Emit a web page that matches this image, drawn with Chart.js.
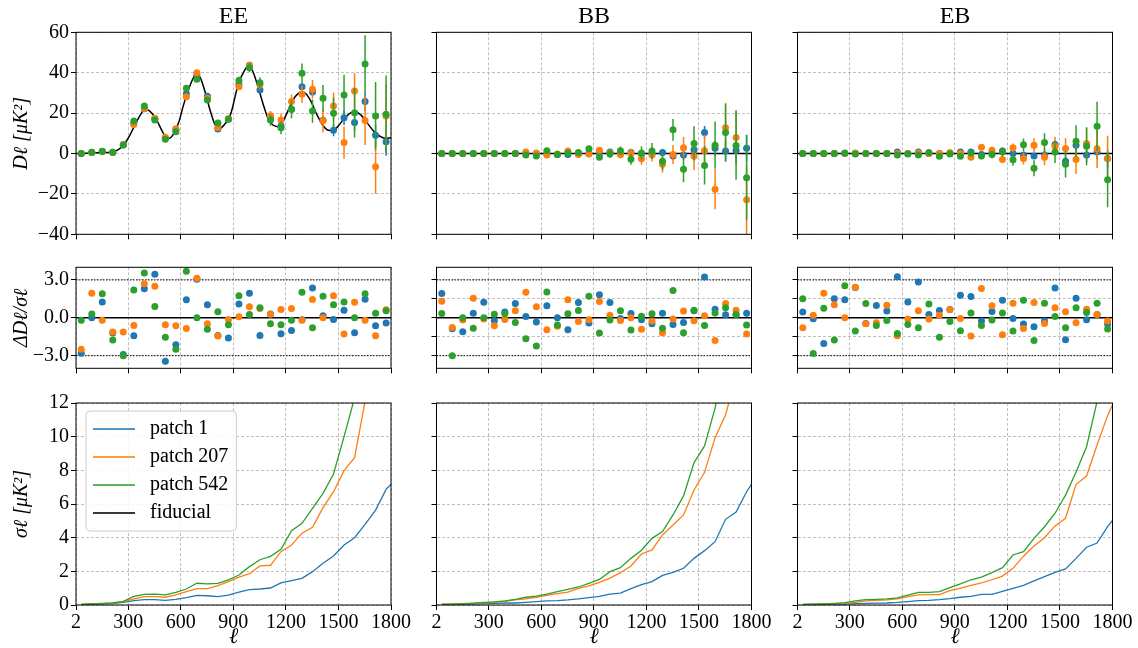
<!DOCTYPE html>
<html>
<head>
<meta charset="utf-8">
<script src="https://cdn.jsdelivr.net/npm/chart.js@4.4.1/dist/chart.umd.min.js"></script>
<style>
  html, body { margin: 0; padding: 0; background: #fff; }
  #fig { position: relative; width: 1138px; height: 648px; overflow: hidden; background: #fff; }
  #fig canvas { position: absolute; left: 0; top: 0; }
</style>
</head>
<body>
<div id="fig"></div>
<script>
// ---- data ----
const spectra = ['EE', 'BB', 'EB'];
const legendLabels = ['patch 1', 'patch 207', 'patch 542', 'fiducial'];

const ell = [32, 92, 152, 212, 272, 332, 392, 452, 512, 572, 632, 692, 752, 812, 872,
             932, 992, 1052, 1112, 1172, 1232, 1292, 1352, 1412, 1472, 1532, 1592, 1652, 1712, 1772];
const sigmaEll = [32, 92, 152, 212, 272, 332, 392, 452, 512, 572, 632, 692, 752, 812, 872,
                  932, 992, 1052, 1112, 1172, 1232, 1292, 1352, 1412, 1472, 1532, 1592, 1652, 1712, 1772, 1800];

const xLimits = [2, 1800];
const xTicks = [2, 300, 600, 900, 1200, 1500, 1800];
const specTicks = [-40, -20, 0, 20, 40, 60];
const residTicks = [-3, -1.5, 0, 1.5, 3];
const sigmaTicks = [0, 2, 4, 6, 8, 10, 12];
const residLevels = [-3, 0, 3];

// fiducial EE curve
const fidEll = [2, 100, 200, 239, 277, 305, 340, 372, 396, 423, 457, 491, 514, 533, 561, 590, 613, 637,
                666, 688, 713, 741, 770, 795, 817, 846, 874, 889, 927, 965, 988, 1012, 1041, 1069, 1098,
                1126, 1154, 1183, 1211, 1240, 1268, 1291, 1316, 1344, 1378, 1410, 1439, 1467, 1496, 1534,
                1572, 1594, 1628, 1666, 1704, 1742, 1771, 1800];
const fidEE = [0, 0.3, 0.6, 1.7, 4.5, 8.3, 14.4, 19.5, 22.2, 21, 17.4, 11.6, 8, 7.5, 10, 15.8, 23.2, 29.8,
               36.4, 39.2, 37.2, 29.8, 20.7, 14.4, 12.2, 14, 17.4, 20.7, 33.9, 41.3, 43.3, 40.5, 33, 24.8, 17.4,
               14.1, 13.3, 15.8, 21, 26.5, 29.5, 30.6, 29.5, 25.7, 19.1, 14.1, 11.6, 11.3, 13.3, 17.4,
               20.2, 20.7, 19.1, 14.9, 10.8, 8.3, 7.5, 7.8];

// D_ell per patch
const eePatch1 = [0, 0.5, 1, 0.5, 4.3, 14.9, 22.2, 17.2, 7.5, 11.8, 29.6, 38.8, 28.3, 12.1, 17.1, 34.2, 43.7, 31.4,
                  17.8, 13.6, 21.9, 33.1, 30.5, 16.5, 11.5, 17.7, 15.3, 25.7, 9, 5.8];
const eePatch207 = [0, 0.5, 1, 0.6, 4.3, 14.4, 22.3, 17.4, 8, 12.3, 28.1, 40, 27.3, 12.9, 17.2, 33.1, 43.6, 34,
                    18.7, 16.6, 25.7, 29.3, 31.8, 16.2, 23.5, 5.4, 31, 16.3, -6.5, 18.6];
const eePatch542 = [0, 0.6, 1.1, 0.6, 4.2, 16.1, 23.5, 16.6, 7, 10.8, 32.3, 36.7, 26.5, 15.1, 17, 36.2, 42.5, 35,
                    16.6, 12.8, 21.9, 39.7, 21, 27.3, 19.9, 29, 20.2, 44.3, 18.6, 19.4];

const bbPatch1 = [0, 0, 0, 0, 0, 0, 0, 0, 0.1, 0, 0, -0.5, -0.5, 0.1, 0, 0.3, 0.7, -0.3, 0.5, -0.2,
                  -0.2, 0.5, -1.2, -0.8, 1.8, 10.4, 2.6, 1.2, 1.5, 2.6];
const bbPatch207 = [0, 0, 0, 0, 0, 0, 0, 0, 0.7, 0.3, -0.8, -0.2, 1.2, -0.5, -0.3, 1.6, 0.2, -0.5, 0, -2.6,
                    -0.7, -5.3, -0.5, 2.8, -1.3, 1.3, -17.7, 12.7, 7.9, -22.9];
const bbPatch542 = [0, 0, 0, 0, 0, 0, 0, 0, -0.8, -1.2, 1.3, -0.5, 0.3, 0.5, 2.3, -1.8, -0.3, 1.3, -2.8, 0.3,
                    1.2, -3.8, 11.7, -7.8, 5.0, -5.9, 4.1, 10.4, 4.0, -12];

const ebPatch1 = [0, 0, 0, 0, 0, 0, 0, 0, 0, 0.7, 0, 0.7, 0, 0, 0, 0.8, 0.8, -0.5, 0, 1.2,
                  0, -0.7, -1.2, -0.7, 4.5, -3.8, 4.1, -0.8, 0.8, -2.5];
const ebPatch207 = [0, 0, 0, 0, 0, 0.3, 0, 0, 0, 0, 0, 0.3, 0, 0, 0.5, 0, -1.8, 3.1, 1.6, -3.0,
                    2.8, -2.5, 4.1, -1.8, 3.6, 2.5, -3.0, 5.0, 2.3, -2.5];
const ebPatch542 = [0, 0, 0, 0, 0.2, -0.2, 0, 0, 0, -0.7, -0.3, -0.7, 0.5, -1.3, -0.2, -1.3, 0.3, -1.2, -0.5, 0.8,
                    -3.1, 4.3, -7.3, 5.4, 0.7, -5.3, 6.1, 3.6, 13.5, -13];

// residuals Delta D / sigma
const eeResid1 = [-2.8, 0, 1.26, -1.2, -2.9, -1.42, 2.3, 3.45, -3.45, -2.13, 1.42, 3.05, 1.03, -1.4, -1.6,
                  1.1, 1.95, -1.4, 0.3, -1.26, -1.0, -0.15, 2.37, 0.16, -0.13, 0.6, -1.18, 1.47, -0.63, -0.42];
const eeResid207 = [-2.5, 1.95, -0.2, -1.13, -1.13, -0.6, 2.7, 2.5, -0.55, -0.63, -0.84, 3.13, -0.47, -1.45, -0.13,
                    0.08, 0.87, 0.74, 0.29, 0.66, 0.74, -0.2, 1.45, 0, 1.74, -1.29, 1.24, -0.2, -1.42, 0.63];
const eeResid542 = [-0.2, 0.3, 1.9, -1.76, -3.0, 2.2, 3.55, 0.9, -1.55, -2.5, 3.68, 0, -0.9, 0.47, -0.55,
                    1.74, 0.26, 0.79, -0.47, -0.55, -0.2, 2.03, -0.79, 1.71, 1.03, 1.26, 0, 1.9, 0.37, 0.55];

const bbResid1 = [1.92, -0.87, -1.1, 0.37, 1.24, -0.24, 0.45, 1.13, 0.1, -0.34, 0.95, 0, -0.95, 1.21, -0.42,
                  1.82, 1.21, -0.05, 0.34, -0.16, -0.47, 0.37, -0.53, -0.37, 0.55, 3.24, 0.68, 0.24, 0.26, 0.37];
const bbResid207 = [1.32, -0.76, -0.18, 1.55, -0.1, -0.63, -0.13, 0.55, 2.03, 0.87, -0.95, -0.66, 1.42, -0.29, -0.16,
                    1.29, 0.21, -0.21, 0, -0.9, -0.26, -1.18, -0.1, 0.53, -0.24, 0.16, -1.79, 1.13, 0.6, -1.29];
const bbResid542 = [0.34, -3.0, 0, -0.82, 0, 0.29, 0.32, -0.37, -1.66, -2.24, 2.05, -0.58, 0.32, 0.58, 1.71,
                    -1.21, -0.18, 0.55, -0.97, 0.13, 0.32, -0.82, 2.16, -1.18, 0.6, -0.6, 0.39, 0.79, 0.26, -0.58];

const ebResid1 = [0.45, -0.08, -2.03, 1.5, 1.42, 2.4, -0.45, 0.97, 0.53, 3.26, 1.26, 2.84, 0.26, 0.58, 0.66,
                  1.79, 1.68, -0.26, 0.5, 1.39, -0.05, -0.5, -0.71, -0.26, 2.37, -1.74, 1.55, -0.16, 0.26, -0.5];
const ebResid207 = [-0.79, 0.21, 1.95, 1.03, 0, 2.42, -0.47, -0.39, 1.0, -1.42, -0.1, 0.55, -0.1, 0.21, 0.66,
                    -0.05, -1.45, 2.32, 0.95, -1.34, 1.16, -0.84, 1.21, -0.45, 0.79, 0.47, -0.39, 0.68, 0.26, -0.26];
const ebResid542 = [1.5, -2.82, 0.76, -1.76, 2.53, -1.05, 1.13, -0.6, -0.21, -1.24, -0.53, -0.79, 1.1, -1.55, -0.29,
                    -1.03, 0.39, -0.6, -0.18, 0.39, -1.05, 1.39, -1.79, 1.16, 0.1, -0.79, 0.79, 0.42, 1.16, -0.89];

// sigma_ell per patch (also the error bars of the top row)
const eeSigma1 = [0.04, 0.05, 0.07, 0.09, 0.15, 0.26, 0.32, 0.32, 0.28, 0.34, 0.44, 0.57, 0.55, 0.5, 0.59, 0.77,
                  0.91, 0.95, 1.01, 1.31, 1.45, 1.58, 1.98, 2.48, 2.91, 3.56, 4.0, 4.79, 5.64, 6.87, 7.17];
const eeSigma207 = [0.04, 0.06, 0.08, 0.12, 0.2, 0.36, 0.5, 0.5, 0.46, 0.6, 0.79, 0.97, 0.97, 1.15, 1.39, 1.66,
                    1.86, 2.32, 2.36, 3.17, 3.56, 4.26, 4.61, 5.78, 6.73, 7.98, 8.75, 12.1, 13.4, 15.5, 16.2];
const eeSigma542 = [0.04, 0.06, 0.09, 0.13, 0.22, 0.51, 0.63, 0.65, 0.6, 0.75, 0.95, 1.29, 1.25, 1.29, 1.49, 1.78,
                    2.28, 2.69, 2.89, 3.31, 4.42, 4.85, 5.74, 6.63, 7.78, 10.0, 12.3, 14.2, 16.8, 19.2, 20.0];

const bbSigma1 = [0.03, 0.04, 0.05, 0.06, 0.08, 0.1, 0.12, 0.12, 0.16, 0.2, 0.24, 0.26, 0.3, 0.36, 0.44, 0.51,
                  0.65, 0.71, 0.97, 1.21, 1.39, 1.76, 1.94, 2.18, 2.77, 3.23, 3.76, 5.09, 5.52, 6.73, 7.17];
const bbSigma207 = [0.03, 0.05, 0.07, 0.1, 0.13, 0.16, 0.22, 0.3, 0.36, 0.46, 0.57, 0.67, 0.77, 0.99, 1.13, 1.35,
                    1.6, 1.92, 2.32, 3.03, 3.27, 4.16, 4.75, 5.35, 6.83, 7.88, 9.94, 11.3, 13.6, 17.5, 18.3];
const bbSigma542 = [0.03, 0.05, 0.08, 0.11, 0.15, 0.19, 0.24, 0.34, 0.46, 0.53, 0.65, 0.79, 0.93, 1.07, 1.29, 1.52,
                    1.98, 2.22, 2.77, 3.25, 3.96, 4.36, 5.35, 6.48, 8.46, 9.45, 11.7, 14.5, 17.0, 21.0, 22.0];

const ebSigma1 = [0.02, 0.03, 0.04, 0.05, 0.06, 0.08, 0.1, 0.11, 0.12, 0.15, 0.2, 0.26, 0.28, 0.32, 0.38, 0.46,
                  0.51, 0.63, 0.63, 0.81, 0.99, 1.17, 1.43, 1.68, 1.94, 2.14, 2.77, 3.43, 3.68, 4.65, 5.03];
const ebSigma207 = [0.03, 0.04, 0.06, 0.08, 0.1, 0.15, 0.25, 0.28, 0.3, 0.36, 0.5, 0.6, 0.62, 0.62, 0.85, 1.0,
                    1.17, 1.31, 1.5, 1.72, 2.18, 2.9, 3.5, 4.0, 4.7, 5.15, 7.17, 7.66, 9.5, 11.25, 11.9];
const ebSigma542 = [0.03, 0.05, 0.07, 0.1, 0.14, 0.25, 0.32, 0.34, 0.36, 0.42, 0.58, 0.75, 0.75, 0.8, 1.03, 1.25,
                    1.5, 1.66, 1.92, 2.22, 2.97, 3.17, 3.96, 4.65, 5.45, 6.53, 7.9, 9.4, 12.1, 13.6, 14.2];

// ---- layout / style ----
const FIG_W = 1138, FIG_H = 648;
const COL_LEFT = [76, 436.5, 797.5], COL_W = 315;
const ROW_TOP = [32.3, 267.3, 403], ROW_H = [202, 101, 202];
const TICK_LEN = 5;
const SERIF = "'Liberation Serif', 'Times New Roman', 'DejaVu Serif', serif";
const COLORS = ['#1f77b4', '#ff7f0e', '#2ca02c'];
const LEGEND_COLORS = ['#1f77b4', '#ff7f0e', '#2ca02c', '#000000'];
const LEGEND_SHIFT = [9, 8];

const specData = { EE: [eePatch1, eePatch207, eePatch542], BB: [bbPatch1, bbPatch207, bbPatch542], EB: [ebPatch1, ebPatch207, ebPatch542] };
const residData = { EE: [eeResid1, eeResid207, eeResid542], BB: [bbResid1, bbResid207, bbResid542], EB: [ebResid1, ebResid207, ebResid542] };
const sigmaData = { EE: [eeSigma1, eeSigma207, eeSigma542], BB: [bbSigma1, bbSigma207, bbSigma542], EB: [ebSigma1, ebSigma207, ebSigma542] };

const minus = v => (v < 0 ? '\u2212' : '') + Math.abs(v);
const minus1 = v => (v < 0 ? '\u2212' : '') + Math.abs(v).toFixed(1);

const rows = [
  { ylim: [-40, 60], ticks: specTicks, fmt: minus, label: 'D\u2113 [\u03bcK\u00b2]' },
  { ylim: [-4, 4], ticks: residTicks, fmt: minus1, label: '\u0394D\u2113/\u03c3\u2113' },
  { ylim: [0, 12], ticks: sigmaTicks, fmt: minus, label: '\u03c3\u2113 [\u03bcK\u00b2]' }
];

// ---- plugins ----
const framePlugin = {
  id: 'frame',
  afterDatasetsDraw(chart) {
    const { ctx, chartArea: a } = chart;
    ctx.save();
    ctx.strokeStyle = '#000';
    ctx.lineWidth = 1;
    ctx.strokeRect(a.left, a.top, a.right - a.left, a.bottom - a.top);
    ctx.restore();
  }
};

const errorBarPlugin = {
  id: 'errorBars',
  beforeDatasetDraw(chart, args) {
    const ds = chart.data.datasets[args.index];
    if (!ds.errors) return;
    const { ctx, chartArea: a, scales: { x, y } } = chart;
    ctx.save();
    ctx.beginPath();
    ctx.rect(a.left, a.top, a.right - a.left, a.bottom - a.top);
    ctx.clip();
    ctx.strokeStyle = ds.backgroundColor;
    ctx.lineWidth = 1.5;
    ds.data.forEach((p, i) => {
      const px = x.getPixelForValue(p.x);
      ctx.beginPath();
      ctx.moveTo(px, y.getPixelForValue(p.y - ds.errors[i]));
      ctx.lineTo(px, y.getPixelForValue(p.y + ds.errors[i]));
      ctx.stroke();
    });
    ctx.restore();
  }
};

// legend sits inside the plot area, top-left, with a rounded frame
const legendFramePlugin = {
  id: 'legendFrame',
  afterLayout(chart) {
    const lg = chart.legend, a = chart.chartArea;
    lg.left = a.left + LEGEND_SHIFT[0];
    lg.top = a.top + LEGEND_SHIFT[1];
    lg.right = a.right;
    lg.bottom = a.bottom;
  },
  afterDraw(chart) {
    const lg = chart.legend;
    const hb = lg.legendHitBoxes;
    if (!hb || !hb.length) return;
    let l = Infinity, t = Infinity, r = -Infinity, b = -Infinity;
    hb.forEach(h => {
      l = Math.min(l, h.left); t = Math.min(t, h.top);
      r = Math.max(r, h.left + h.width); b = Math.max(b, h.top + h.height);
    });
    const ctx = chart.ctx;
    ctx.save();
    ctx.beginPath();
    ctx.roundRect(l - 7, t - 8, r - l + 15, b - t + 16, 4);
    ctx.fillStyle = 'rgba(255,255,255,0.85)';
    ctx.fill();
    ctx.strokeStyle = '#cccccc';
    ctx.lineWidth = 1;
    ctx.stroke();
    ctx.restore();
    lg.draw();
  }
};

// little line used as legend handle
function handle(color) {
  const c = document.createElement('canvas');
  c.width = 47; c.height = 4;
  const g = c.getContext('2d');
  g.strokeStyle = color;
  g.lineWidth = 1.5;
  g.beginPath(); g.moveTo(0, 2); g.lineTo(42, 2); g.stroke();
  return c;
}

const points = (xs, ys) => ys.map((v, i) => ({ x: xs[i], y: v }));
const hline = level => [{ x: xLimits[0], y: level }, { x: xLimits[1], y: level }];

// ---- one panel ----
const fig = document.getElementById('fig');

function makePanel(row, col, datasets, withLegend) {
  const canvas = document.createElement('canvas');
  canvas.width = FIG_W; canvas.height = FIG_H;
  canvas.style.width = FIG_W + 'px'; canvas.style.height = FIG_H + 'px';
  fig.appendChild(canvas);

  const box = { left: COL_LEFT[col], top: ROW_TOP[row], right: COL_LEFT[col] + COL_W, bottom: ROW_TOP[row] + ROW_H[row] };
  const yW = col === 0 ? box.left : TICK_LEN;
  const xH = row === 2 ? 43 : TICK_LEN;
  const pad = {
    left: box.left - yW,
    top: box.top - (row === 0 ? 30 : 0),
    right: FIG_W - box.right,
    bottom: FIG_H - box.bottom - xH
  };
  const R = rows[row];
  const grid = { color: '#b0b0b0', lineWidth: 0.8, drawTicks: true, tickLength: TICK_LEN, tickColor: '#000', tickWidth: 1, tickBorderDash: [] };
  const border = { display: false, dash: [3, 2] };

  const legend = withLegend ? {
    display: true,
    position: 'chartArea',
    align: 'start',
    labels: {
      usePointStyle: true,
      pointStyleWidth: 47,
      padding: 8,
      color: '#000',
      font: { family: SERIF, size: 20 },
      generateLabels: () => legendLabels.map((t, i) => ({
        text: t, pointStyle: handle(LEGEND_COLORS[i]), fillStyle: LEGEND_COLORS[i],
        strokeStyle: LEGEND_COLORS[i], lineWidth: 0, hidden: false, fontColor: '#000', datasetIndex: i
      }))
    }
  } : { display: false };

  const chart = new Chart(canvas, {
    type: 'scatter',
    data: { datasets },
    options: {
      responsive: false,
      animation: false,
      devicePixelRatio: 1,
      events: [],
      layout: { padding: pad },
      plugins: {
        tooltip: { enabled: false },
        legend,
        title: {
          display: row === 0, text: spectra[col], color: '#000', fullSize: false,
          font: { family: SERIF, size: 24, weight: 'normal', lineHeight: 1.2 },
          padding: { top: 0, bottom: 1 }
        }
      },
      scales: {
        x: {
          type: 'linear', min: xLimits[0], max: xLimits[1],
          afterBuildTicks: s => { s.ticks = xTicks.map(v => ({ value: v })); },
          afterFit: s => { s.height = xH; },
          grid, border,
          ticks: { display: row === 2, autoSkip: false, maxRotation: 0, padding: 1, color: '#000',
                   font: { family: SERIF, size: 20 }, callback: v => String(v) },
          title: { display: row === 2, text: '\u2113', color: '#000', padding: 0,
                   font: { family: SERIF, size: 22, style: 'italic', lineHeight: 1 } }
        },
        y: {
          type: 'linear', min: R.ylim[0], max: R.ylim[1],
          afterBuildTicks: s => { s.ticks = R.ticks.map(v => ({ value: v })); },
          afterFit: s => { s.width = yW; },
          grid, border,
          ticks: { display: col === 0, padding: 2, color: '#000', font: { family: SERIF, size: 20 }, callback: R.fmt },
          title: { display: col === 0, text: R.label, color: '#000', padding: { top: 10, bottom: 0 },
                   font: { family: SERIF, size: 20, style: 'italic', lineHeight: 1.2 } }
        }
      }
    },
    plugins: [framePlugin, errorBarPlugin].concat(withLegend ? [legendFramePlugin] : [])
  });

  // pin the plot area to the figure grid
  const a = chart.chartArea;
  chart.config.options.layout.padding = {
    left: pad.left + (box.left - a.left),
    top: pad.top + (box.top - a.top),
    right: pad.right + (a.right - box.right),
    bottom: pad.bottom + (a.bottom - box.bottom)
  };
  chart.update();
  return chart;
}

// ---- build the 3x3 grid ----
spectra.forEach((spec, col) => {
  const spData = specData[spec], rsData = residData[spec], sgData = sigmaData[spec];

  // top row: spectra with error bars
  const top = [{
    type: 'scatter', showLine: true, pointRadius: 0, borderColor: '#000', borderWidth: 1.5,
    cubicInterpolationMode: 'monotone', order: 10,
    data: spec === 'EE' ? points(fidEll, fidEE) : hline(0)
  }];
  spData.forEach((vals, k) => {
    top.push({
      data: points(ell, vals), errors: sgData[k].slice(0, ell.length),
      backgroundColor: COLORS[k], borderColor: COLORS[k], pointRadius: 3.5, pointBorderWidth: 0, order: 3 - k
    });
  });
  makePanel(0, col, top, false);

  // middle row: residuals
  const mid = residLevels.map(level => ({
    showLine: true, pointRadius: 0, borderColor: '#000', order: 10,
    borderWidth: level === 0 ? 1.5 : 1, borderDash: level === 0 ? [] : [1.5, 1.5],
    data: hline(level)
  }));
  rsData.forEach((vals, k) => {
    mid.push({
      data: points(ell, vals), backgroundColor: COLORS[k], borderColor: COLORS[k],
      pointRadius: 3.5, pointBorderWidth: 0, order: 3 - k
    });
  });
  makePanel(1, col, mid, false);

  // bottom row: sigma_ell
  const bot = sgData.map((vals, k) => ({
    data: points(sigmaEll, vals), showLine: true, pointRadius: 0,
    borderColor: COLORS[k], backgroundColor: COLORS[k], borderWidth: 1.3, order: 3 - k
  }));
  makePanel(2, col, bot, col === 0);
});
</script>
</body>
</html>
